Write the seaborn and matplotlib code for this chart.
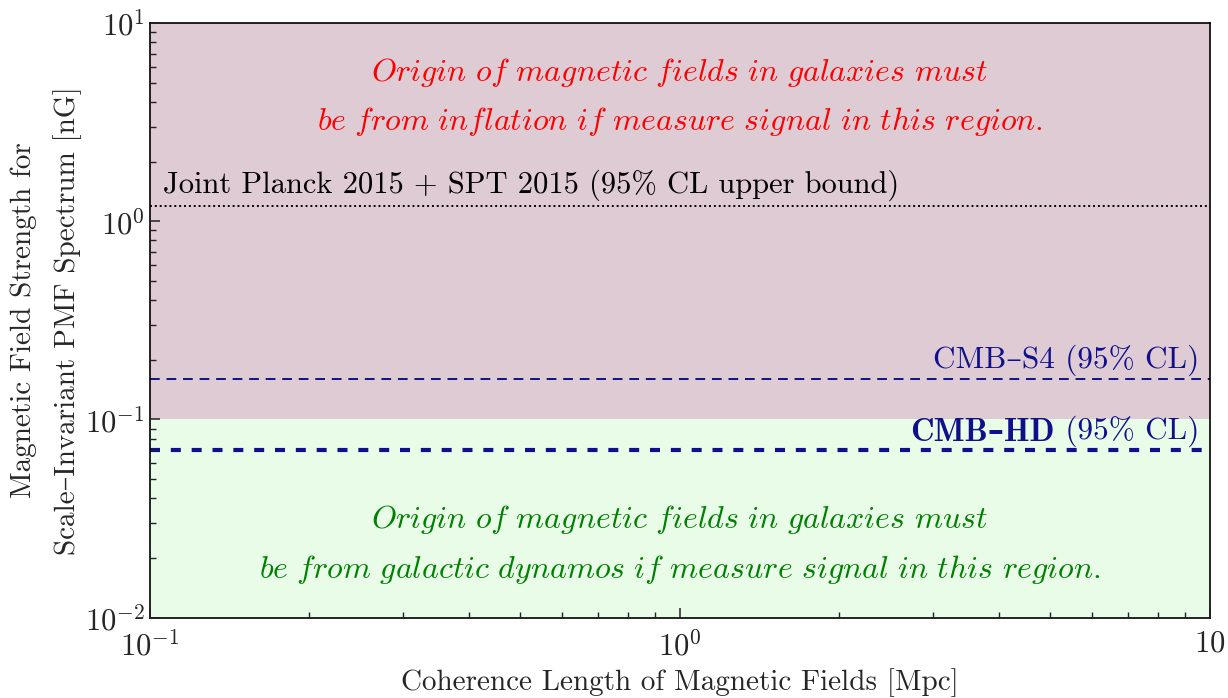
import matplotlib
matplotlib.use("Agg")
import matplotlib.pyplot as plt
import numpy as np
import pandas as pd
import seaborn as sns

# coherence length range [Mpc]
x_range = [0.1, 10.0]

# region boundaries [nG]
inflation_region = [0.1, 10.0]
dynamo_region = [0.01, 0.1]

# bounds [nG]
planck_spt_bound = 1.2
cmb_s4_bound = 0.16
cmb_hd_bound = 0.07

xticks = [0.1, 1.0, 10.0]
xtick_labels = [r"$10^{-1}$", r"$10^{0}$", r"$10$"]
yticks = [0.01, 0.1, 1.0, 10.0]
ytick_labels = [r"$10^{-2}$", r"$10^{-1}$", r"$10^{0}$", r"$10^{1}$"]

NAVY = "#10108a"

sns.set_style("ticks")
plt.rcParams["font.family"] = ["cmr10", "DejaVu Serif"]
plt.rcParams["mathtext.fontset"] = "cm"
plt.rcParams["axes.formatter.use_mathtext"] = True
plt.rcParams["axes.unicode_minus"] = False

fig, ax = plt.subplots(figsize=(12.28, 6.98), dpi=100)
fig.subplots_adjust(left=0.122, right=0.985, top=0.967, bottom=0.115)

ax.fill_between(x_range, inflation_region[0], inflation_region[1], color="#dfcbd4", lw=0, zorder=0)
ax.fill_between(x_range, dynamo_region[0], dynamo_region[1], color="#e8fce8", lw=0, zorder=0)

lines = pd.DataFrame({
    "x": x_range * 3,
    "y": [planck_spt_bound] * 2 + [cmb_s4_bound] * 2 + [cmb_hd_bound] * 2,
    "name": ["planck"] * 2 + ["s4"] * 2 + ["hd"] * 2,
})
sns.lineplot(data=lines[lines.name == "planck"], x="x", y="y", color="black",
             linestyle=(0, (1, 1.5)), lw=1.4, ax=ax)
sns.lineplot(data=lines[lines.name == "s4"], x="x", y="y", color=NAVY,
             linestyle=(0, (5, 3.5)), lw=1.4, ax=ax)
sns.lineplot(data=lines[lines.name == "hd"], x="x", y="y", color=NAVY,
             linestyle=(0, (2.4, 2.6)), lw=3.0, ax=ax)

ax.set_axisbelow(False)
ax.set_xscale("log")
ax.set_yscale("log")
ax.set_xlim(x_range)
ax.set_ylim(0.01, 10)
ax.set_xticks(xticks)
ax.set_xticklabels(xtick_labels)
ax.set_yticks(yticks)
ax.set_yticklabels(ytick_labels)
ax.tick_params(which="both", direction="in", top=False, right=False,
               labelsize=22, color="#222222")
ax.tick_params(axis="x", which="major", pad=9)
ax.tick_params(which="major", length=7.5, width=1.1)
ax.tick_params(which="minor", length=4, width=1.0)
for s in ax.spines.values():
    s.set_linewidth(1.2)
    s.set_color("black")

ax.set_xlabel("Coherence Length of Magnetic Fields [Mpc]", fontsize=21, labelpad=5)
ax.set_ylabel("Magnetic Field Strength for\nScale\u2013Invariant PMF Spectrum [nG]",
              fontsize=21, labelpad=2, linespacing=1.75)

region_kw = dict(transform=ax.transAxes, ha="center", va="center", fontsize=23)
ax.text(0.5, 0.916, r"$\mathit{Origin\ of\ magnetic\ fields\ in\ galaxies\ must}$",
        color="red", **region_kw)
ax.text(0.5, 0.834, r"$\mathit{be\ from\ inflation\ if\ measure\ signal\ in\ this\ region.}$",
        color="red", **region_kw)
ax.text(0.5, 0.165, r"$\mathit{Origin\ of\ magnetic\ fields\ in\ galaxies\ must}$",
        color="#008000", **region_kw)
ax.text(0.5, 0.081, r"$\mathit{be\ from\ galactic\ dynamos\ if\ measure\ signal\ in\ this\ region.}$",
        color="#008000", **region_kw)

ax.text(0.106, planck_spt_bound * 1.05, "Joint Planck 2015 + SPT 2015 (95% CL upper bound)",
        ha="left", va="bottom", fontsize=22, color="black")
ax.text(9.55, cmb_s4_bound * 1.04, "CMB\u2013S4 (95% CL)",
        ha="right", va="bottom", fontsize=22.5, color=NAVY)
cl = ax.text(9.55, cmb_hd_bound * 1.04, " (95% CL)",
             ha="right", va="bottom", fontsize=22.5, color=NAVY)
ax.annotate("CMB\u2013HD", xy=(0, 0), xycoords=cl, ha="right", va="bottom",
            fontsize=23.5, color=NAVY, fontweight="bold",
            family=["cmb10", "DejaVu Serif"])

fig.savefig("out.png", dpi=100)
